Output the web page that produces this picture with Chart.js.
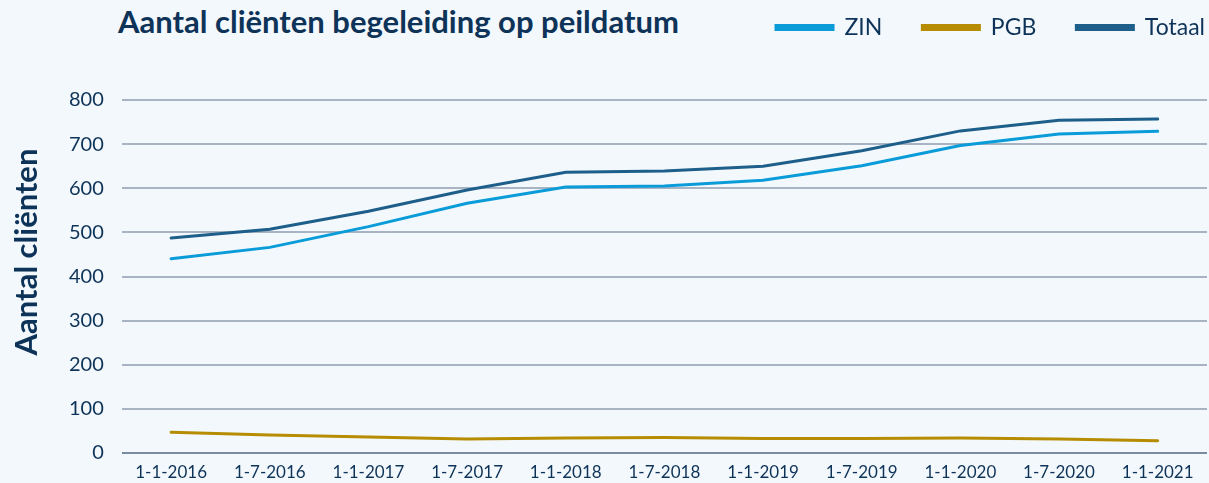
<!DOCTYPE html>
<html>
<head>
<meta charset="utf-8">
<script src="https://cdn.jsdelivr.net/npm/chart.js@4.4.1/dist/chart.umd.min.js"></script>
<style>
  body { margin: 0; background: #f3f8fc; }
  #wrap { position: relative; width: 1209px; height: 483px; }
  #title { position: absolute; left: 118px; top: 2px; margin: 0; font: bold 31px Lato, sans-serif; color: #0e3358; white-space: nowrap; }
  canvas { position: absolute; left: 0; top: 0; }
</style>
</head>
<body>
<div id="wrap">
  <h1 id="title">Aantal cliënten begeleiding op peildatum</h1>
  <canvas id="chart" width="1209" height="483"></canvas>
</div>
<script>
const labels = ['1-1-2016', '1-7-2016', '1-1-2017', '1-7-2017', '1-1-2018', '1-7-2018',
                '1-1-2019', '1-7-2019', '1-1-2020', '1-7-2020', '1-1-2021'];
const zin    = [440, 466, 513, 566, 603, 605, 618, 651, 697, 723, 729];
const pgb    = [47, 41, 36, 32, 34, 35, 33, 33, 34, 32, 28];
const totaal = [487, 507, 548, 596, 636, 639, 650, 685, 730, 754, 757];
const yTitle = 'Aantal cliënten';

const navy = '#0e3358';
const font = 'Lato, sans-serif';

// more room under the legend, and nudge the legend up/right like the reference
const legendTweak = {
  id: 'legendTweak',
  beforeInit(chart) {
    const fit = chart.legend.fit;
    chart.legend.fit = function () {
      fit.bind(chart.legend)();
      this.height += 27;
    };
  },
  afterLayout(chart) {
    const lg = chart.legend;
    lg.top -= 24;
    lg.left += 38;
    lg.right += 38;
  }
};

// y axis title sits a bit above the middle of the plot in the reference
const yTitlePlugin = {
  id: 'yTitle',
  afterDraw(chart) {
    const ctx = chart.ctx;
    ctx.save();
    ctx.translate(27, 252);
    ctx.rotate(-Math.PI / 2);
    ctx.font = 'bold 31px ' + font;
    ctx.fillStyle = navy;
    ctx.textAlign = 'center';
    ctx.textBaseline = 'middle';
    ctx.fillText(yTitle, 0, 0);
    ctx.restore();
  }
};

function line(label, data, color) {
  return {
    label: label,
    data: data,
    borderColor: color,
    backgroundColor: color,
    borderWidth: 3,
    pointRadius: 0,
    tension: 0,
    borderCapStyle: 'round'
  };
}

new Chart(document.getElementById('chart'), {
  type: 'line',
  data: {
    labels: labels,
    datasets: [
      line('ZIN', zin, '#0a9bd9'),
      line('PGB', pgb, '#b68c02'),
      line('Totaal', totaal, '#1d5f8a')
    ]
  },
  plugins: [legendTweak, yTitlePlugin],
  options: {
    responsive: false,
    animation: false,
    layout: { padding: { left: 51, right: 2, top: 0, bottom: -6 } },
    plugins: {
      legend: {
        position: 'top',
        align: 'end',
        labels: {
          boxWidth: 57,
          boxHeight: 4,
          padding: 40,
          color: navy,
          font: { family: font, size: 23 }
        }
      },
      tooltip: { enabled: false }
    },
    scales: {
      x: {
        offset: true,
        grid: { display: false },
        border: { display: false },
        ticks: { color: navy, font: { family: font, size: 17 }, padding: 1, maxRotation: 0 }
      },
      y: {
        min: 0,
        max: 800,
        ticks: { stepSize: 100, color: navy, font: { family: font, size: 20 }, padding: 18 },
        border: { display: false },
        grid: {
          lineWidth: 2,
          drawTicks: false,
          color: ctx => ctx.tick && ctx.tick.value === 0 ? '#7b8ba1' : '#a8b4c4'
        }
      }
    }
  }
});
</script>
</body>
</html>
